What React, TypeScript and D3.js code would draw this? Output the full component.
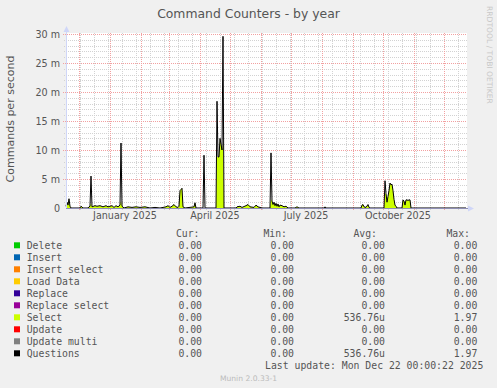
import React from "react";
import * as d3 from "d3";

// ---- data (values in milli-commands per second) ----
const dates = [
  "2024-11-18","2024-11-19","2024-11-20","2024-11-21","2024-11-22","2024-11-23",
  "2024-12-02","2024-12-03","2024-12-05","2024-12-10","2024-12-11","2024-12-12","2024-12-13","2024-12-14",
  "2024-12-17","2024-12-19","2024-12-22","2024-12-25","2024-12-28","2024-12-30",
  "2025-01-01","2025-01-03","2025-01-05","2025-01-07","2025-01-09","2025-01-11","2025-01-12","2025-01-13",
  "2025-01-15","2025-01-19","2025-01-23","2025-01-27","2025-01-31","2025-02-05","2025-02-10","2025-02-15",
  "2025-02-20","2025-02-26","2025-02-28","2025-03-02","2025-03-04","2025-03-06","2025-03-08","2025-03-10",
  "2025-03-11","2025-03-12","2025-03-13","2025-03-14","2025-03-15","2025-03-17","2025-03-26","2025-03-27",
  "2025-03-28","2025-04-04","2025-04-05","2025-04-06","2025-04-17","2025-04-18","2025-04-19","2025-04-20",
  "2025-04-21","2025-04-22","2025-04-23","2025-04-24","2025-04-25","2025-05-07","2025-05-08","2025-05-11",
  "2025-05-13","2025-05-17","2025-05-19","2025-05-21","2025-05-25","2025-05-27","2025-05-29","2025-06-02",
  "2025-06-10","2025-06-11","2025-06-12","2025-06-13","2025-06-14","2025-06-15","2025-06-16","2025-06-17",
  "2025-06-18","2025-06-19","2025-06-20","2025-06-22","2025-06-24","2025-06-26","2025-06-28","2025-07-05",
  "2025-07-07","2025-07-09","2025-08-03","2025-08-04","2025-08-05","2025-09-09","2025-09-10","2025-09-11",
  "2025-09-12","2025-09-14","2025-09-16","2025-09-17","2025-09-18","2025-10-02","2025-10-03","2025-10-04",
  "2025-10-05","2025-10-06","2025-10-07","2025-10-08","2025-10-09","2025-10-10","2025-10-11","2025-10-12",
  "2025-10-13","2025-10-14","2025-10-15","2025-10-20","2025-10-21","2025-10-22","2025-10-23","2025-10-24",
  "2025-10-25","2025-10-26","2025-10-27","2025-10-28","2025-10-29","2025-12-23"
];

const questionsMilli = [
  0.3,1.0,0.5,1.6,0.3,0,
  0,0.3,0,0,0.2,0.3,5.5,0.2,
  0.4,0.3,0.4,0.2,0.4,0.2,
  0.3,0.4,0.1,0.4,0.2,0.5,11.2,0.3,
  0,0.2,0.1,0.2,0.1,0.2,0,0.1,
  0,0.2,0.4,0.1,0.3,0.6,0.2,0.1,
  0.3,3.0,3.2,3.4,0.2,0,0.2,0.9,
  0,0,9.1,0,0,18.4,8.8,8.8,
  12,11,10,29.6,0,0,0.2,0.3,
  0.1,0.4,0.6,0.2,0.1,0.5,0.2,0,
  0,9.5,1.2,0.6,1.0,0.4,0.8,0.3,
  0.7,0.2,0.5,0.4,0.2,0.3,0,0,
  0.2,0,0,0.2,0,0,0.5,0.6,
  0.2,0.1,0.6,0.1,0,0,4.7,2.5,
  1.0,2.0,3.0,4.3,4.0,4.1,3.0,1.5,
  0.5,0.3,0,0,1.4,1.2,0.5,1.4,
  1.4,1.3,1.4,1.4,0,0
];

const selectMilli = [
  0.3,1.0,0.5,1.6,0.3,0,
  0,0.3,0,0,0.2,0.3,0.8,0.2,
  0.4,0.3,0.4,0.2,0.4,0.2,
  0.3,0.4,0.1,0.4,0.2,0.5,1.2,0.3,
  0,0.2,0.1,0.2,0.1,0.2,0,0.1,
  0,0.2,0.4,0.1,0.3,0.6,0.2,0.1,
  0.3,3.0,3.2,3.4,0.2,0,0.2,0.9,
  0,0,0,0,0,8.8,8.8,8.8,
  12,11,10,11,0,0,0.2,0.3,
  0.1,0.4,0.6,0.2,0.1,0.5,0.2,0,
  0,1.5,1.2,0.6,1.0,0.4,0.8,0.3,
  0.7,0.2,0.5,0.4,0.2,0.3,0,0,
  0.2,0,0,0.2,0,0,0.5,0.6,
  0.2,0.1,0.6,0.1,0,0,2.5,2.5,
  1.0,2.0,3.0,4.3,4.0,4.1,3.0,1.5,
  0.5,0.3,0,0,1.4,1.2,0.5,1.4,
  1.4,1.3,1.4,1.4,0,0
];

const yTicks = [0, 5, 10, 15, 20, 25, 30];
const yTickLabels = ["0", "5 m", "10 m", "15 m", "20 m", "25 m", "30 m"];
const xLabelDates = ["2025-01-01", "2025-04-01", "2025-07-01", "2025-10-01"];
const xLabelTexts = ["January 2025", "April 2025", "July 2025", "October 2025"];

const legendNames = ["Delete", "Insert", "Insert select", "Load Data", "Replace", "Replace select", "Select", "Update", "Update multi", "Questions"];
const legendColors = ["#00CC00", "#0066B3", "#FF8000", "#FFCC00", "#330099", "#990099", "#CCFF00", "#FF0000", "#808080", "#000000"];
const curVals = ["0.00","0.00","0.00","0.00","0.00","0.00","0.00","0.00","0.00","0.00"];
const minVals = ["0.00","0.00","0.00","0.00","0.00","0.00","0.00","0.00","0.00","0.00"];
const avgVals = ["0.00","0.00","0.00","0.00","0.00","0.00","536.76u","0.00","0.00","536.76u"];
const maxVals = ["0.00","0.00","0.00","0.00","0.00","0.00","1.97","0.00","0.00","1.97"];

const W = 497, H = 388;
const PL = 66, PR = 466, PT = 33, PB = 208;
const parse = d3.utcParse("%Y-%m-%d");
const startDate = parse("2024-11-18") as Date;
const endDate = parse("2025-12-23") as Date;

const SANS = "'DejaVu Sans', sans-serif";
const MONO = "'DejaVu Sans Mono', monospace";
const FONT_COLOR = "#555555";

export default function App() {
  const x = d3.scaleUtc().domain([startDate, endDate]).range([PL, PR]);
  const y = d3.scaleLinear().domain([0, 30]).range([PB, PB - 174]);

  const pts = dates.map((d, i) => ({ t: parse(d) as Date, q: questionsMilli[i], s: selectMilli[i] }));
  const area = d3.area<any>().x((d) => x(d.t)).y0(y(0)).y1((d) => y(d.s));
  const line = d3.line<any>().x((d) => x(d.t)).y((d) => y(d.q));

  const months = d3.utcMonth.range(startDate, endDate).filter((d) => x(d) > PL + 1);
  const mondays = d3.utcMonday.range(startDate, endDate).filter((d, i) => i % 2 === 0 && x(d) > PL + 1);
  const minorY = d3.range(1, 31).filter((v) => v % 5 !== 0);
  const majorY = [5, 10, 15, 20, 25, 30];

  const rowY = (i: number) => 245.7 + 12 * i;

  return (
    <svg width={W} height={H} style={{ position: "absolute", left: 0, top: 0 }} xmlns="http://www.w3.org/2000/svg">
      <rect x={0} y={0} width={W} height={H} fill="#F0F0F0" />
      <rect x={PL} y={PT} width={PR - PL + 1} height={PB - PT} fill="#FFFFFF" />

      {/* minor grid */}
      <g stroke="#D2D2D2" strokeWidth={1} strokeDasharray="1,1" shapeRendering="crispEdges">
        {minorY.map((v) => (
          <line key={"my" + v} x1={PL - 2} x2={PR + 1} y1={Math.round(y(v)) + 0.5} y2={Math.round(y(v)) + 0.5} />
        ))}
        {mondays.map((d, i) => (
          <line key={"mx" + i} x1={Math.round(x(d)) + 0.5} x2={Math.round(x(d)) + 0.5} y1={PT} y2={PB + 2} />
        ))}
      </g>
      {/* major grid */}
      <g stroke="#F2A0A0" strokeWidth={1} strokeDasharray="1,1" shapeRendering="crispEdges">
        {majorY.map((v) => (
          <line key={"My" + v} x1={PL - 3} x2={PR + 1} y1={Math.round(y(v)) + 0.5} y2={Math.round(y(v)) + 0.5} />
        ))}
        {months.map((d, i) => (
          <line key={"Mx" + i} x1={Math.round(x(d)) + 0.5} x2={Math.round(x(d)) + 0.5} y1={PT} y2={PB + 3} />
        ))}
      </g>

      {/* data */}
      <path d={area(pts) || ""} fill="#CCFF00" />
      <path d={line(pts) || ""} fill="none" stroke="#000000" strokeWidth={1} />

      {/* axes */}
      <line x1={PL + 0.5} x2={PL + 0.5} y1={PT - 2} y2={PB + 1} stroke="#CFD6F8" shapeRendering="crispEdges" />
      <path d={`M${PL - 2.5},${PT - 1} L${PL + 3.5},${PT - 1} L${PL + 0.5},${PT - 7} Z`} fill="#CFD6F8" />
      <line x1={PL} x2={PR + 3} y1={PB + 0.5} y2={PB + 0.5} stroke="#8E8EB4" shapeRendering="crispEdges" />
      <path d={`M${PR + 2},${PB - 2.5} L${PR + 2},${PB + 3.5} L${PR + 8},${PB + 0.5} Z`} fill="#CFD6F8" />

      {/* y tick labels */}
      <g fontFamily={SANS} fontSize={9.6} fill={FONT_COLOR} textAnchor="end">
        {yTicks.map((v, i) => (
          <text key={"yl" + v} x={60} y={y(v) + 3.5}>{yTickLabels[i]}</text>
        ))}
      </g>
      {/* x labels */}
      <g fontFamily={SANS} fontSize={9.6} fill={FONT_COLOR} textAnchor="middle">
        {xLabelDates.map((d, i) => (
          <text key={"xl" + i} x={x(d3.utcDay.offset(parse(d) as Date, 15))} y={219}>{xLabelTexts[i]}</text>
        ))}
      </g>

      {/* title */}
      <text x={248.5} y={18} textAnchor="middle" fontFamily={SANS} fontSize={12.4} fill={FONT_COLOR}>Command Counters - by year</text>
      <text transform="translate(14,119) rotate(-90)" textAnchor="middle" fontFamily={SANS} fontSize={11} fill={FONT_COLOR}>Commands per second</text>
      <text transform="translate(486.5,6) rotate(90)" fontFamily={SANS} fontSize={7.6} fill="#C8C8C8">RRDTOOL / TOBI OETIKER</text>

      {/* legend */}
      <g fontFamily={MONO} fontSize={9.8} fill={FONT_COLOR}>
        <text x={199.5} y={236.8} textAnchor="end">Cur:</text>
        <text x={287} y={236.8} textAnchor="end">Min:</text>
        <text x={377} y={236.8} textAnchor="end">Avg:</text>
        <text x={470} y={236.8} textAnchor="end">Max:</text>
        {legendNames.map((n, i) => (
          <g key={"lg" + i}>
            <rect x={14} y={rowY(i) - 3.4} width={6} height={6} fill={legendColors[i]} />
            <text x={26.7} y={rowY(i) + 3.5}>{n}</text>
            <text x={202} y={rowY(i) + 3.5} textAnchor="end">{curVals[i]}</text>
            <text x={294} y={rowY(i) + 3.5} textAnchor="end">{minVals[i]}</text>
            <text x={385} y={rowY(i) + 3.5} textAnchor="end">{avgVals[i]}</text>
            <text x={477.3} y={rowY(i) + 3.5} textAnchor="end">{maxVals[i]}</text>
          </g>
        ))}
        <text x={483.3} y={369.2} textAnchor="end">Last update: Mon Dec 22 00:00:22 2025</text>
      </g>
      <text x={248.5} y={380.5} textAnchor="middle" fontFamily={SANS} fontSize={7.6} fill="#BBBBBB">Munin 2.0.33-1</text>
    </svg>
  );
}
